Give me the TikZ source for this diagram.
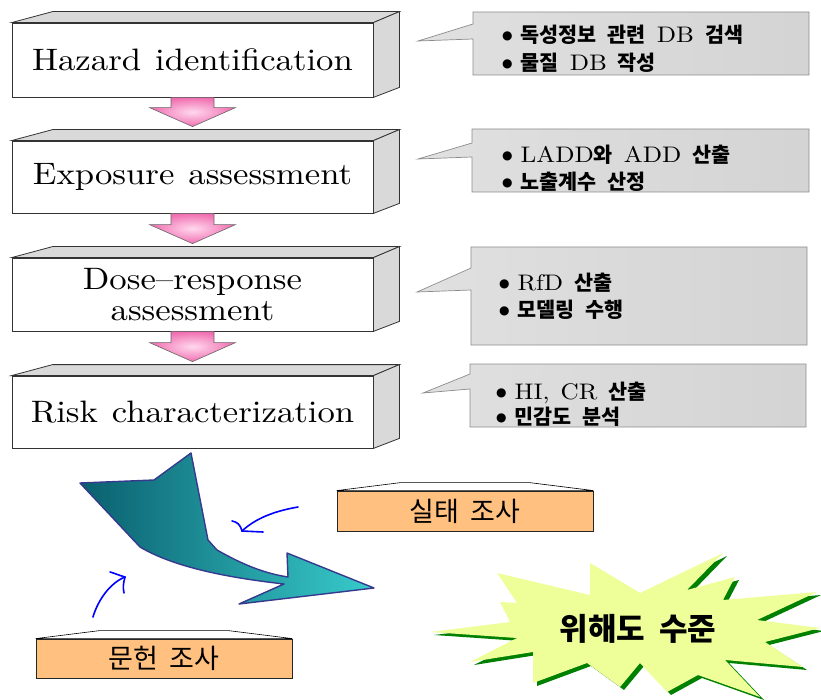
\documentclass[tikz,border=0pt]{standalone}
\usepackage{fontspec}
\newfontfamily\kr[Scale=0.92]{Noto Sans CJK KR}
\newfontfamily\krbig{Noto Sans CJK KR}
\newfontfamily\sym{DejaVu Sans}
\newfontfamily\boxfont[FakeStretch=1.12]{lmroman10-regular.otf}
\usetikzlibrary{calc,arrows.meta}
\definecolor{boxgray}{HTML}{D9D9D9}
\definecolor{pinkout}{HTML}{F06EB0}
\definecolor{pinkin}{HTML}{FFD8EE}
\definecolor{tealdark}{HTML}{0A5F6E}
\definecolor{teallight}{HTML}{38CCCC}
\definecolor{tealedge}{HTML}{363A8E}
\definecolor{orangebox}{HTML}{FFC080}
\definecolor{burst}{HTML}{EEFF99}
\definecolor{burstshadow}{HTML}{008000}
\definecolor{calloutedge}{HTML}{8C8C8C}
\newcommand\krb[1]{{\kr\bfseries #1}}
\newcommand\bul{\raisebox{3.5pt}{\sym\fontsize{12}{12}\selectfont ●}\hspace{8pt}}
\newcommand\gap{\hspace{11pt}}
\newcommand\stepfont{\boxfont\fontsize{31}{32}\selectfont\spaceskip 0.45em\relax}
\newcommand\pinkarrow[2]{%
  \shadedraw[pinkarr] ($(#1.south)+(-21.5,0)$) -- ($(#1.south)+(21.5,0)$)
   -- ($(#2.north)+(21.5,-33)$) -- ($(#2.north)+(43,-33)$)
   -- ($(#2.north)+(0,-14)$) -- ($(#2.north)+(-43,-33)$)
   -- ($(#2.north)+(-21.5,-33)$) -- cycle;}
\newcommand\threedbox[1]{%
  \filldraw[face] (#1.north west) -- ++(41,-11) -- ($(#1.north east)+(26,-11)$) -- (#1.north east) -- cycle;
  \filldraw[face] (#1.north east) -- ++(26,-11) -- ($(#1.south east)+(26,-10)$) -- (#1.south east) -- cycle;}
\newcommand\orangetop[1]{%
  \filldraw[fill=white,draw=black,line width=0.6pt] (#1.north west) -- ++(64,-8) -- ($(#1.north east)+(-64,-8)$) -- (#1.north east) -- cycle;}
\tikzset{
  stepbox/.style={draw=black!80,fill=white,line width=0.8pt,minimum width=361pt,inner sep=0pt,
    font=\stepfont,align=center},
  face/.style={fill=boxgray,draw=black!80,line width=0.8pt},
  pinkarr/.style={inner color=pinkin,outer color=pinkout,draw=black!60,line width=0.6pt},
  callout/.style={left color=gray!24,middle color=white,right color=gray!34,draw=calloutedge,line width=0.7pt},
  callouttext/.style={anchor=west,inner sep=0pt,align=left,font=\boxfont\fontsize{22.5}{28}\selectfont},
  orangebox/.style={fill=orangebox,draw=black!85,line width=0.8pt,minimum width=256pt,inner sep=0pt,
    font=\krbig\fontsize{27}{28}\selectfont},
  bluestroke/.style={draw=blue,line width=1.6pt,line cap=round},
}
\begin{document}
\begin{tikzpicture}[x=1pt,y=-1pt]
\useasboundingbox (0,0) rectangle (821,700);

% --- step boxes
\node[stepbox,minimum height=74pt] (b1) at (192.5,60) {Hazard identification};
\node[stepbox,minimum height=72pt] (b2) at (192.5,177) {Exposure assessment};
\node[stepbox,minimum height=73pt] (b3) at (192.5,294.5) {Dose–response\\[-1pt]assessment};
\node[stepbox,minimum height=72pt] (b4) at (192.5,412) {Risk characterization};
\threedbox{b1}\threedbox{b2}\threedbox{b3}\threedbox{b4}
\pinkarrow{b1}{b2}
\pinkarrow{b2}{b3}
\pinkarrow{b3}{b4}

% --- callouts
\shadedraw[callout] (473,12) -- (809,12) -- (809,75) -- (473,75) -- (473,39) -- (418,41) -- (473,24) -- cycle;
\shadedraw[callout] (472,129) -- (809,129) -- (809,192) -- (472,192) -- (472,157) -- (418,159) -- (472,143) -- cycle;
\shadedraw[callout] (471,247) -- (807,247) -- (807,345) -- (471,345) -- (471,290) -- (417,292) -- (471,268) -- cycle;
\shadedraw[callout] (470,364) -- (806,364) -- (806,427) -- (470,427) -- (470,389) -- (423,393) -- (470,374) -- cycle;

\node[callouttext] (c1) at (502,49) {\bul\krb{독성정보}\gap\krb{관련}\gap DB\gap\krb{검색}\\
  \bul\krb{물질}\gap DB\gap\krb{작성}};
\begin{scope}
\clip (472,129) rectangle (809,192);
\node[callouttext,font=\boxfont\fontsize{22.5}{27}\selectfont] (c2) at (502,168.5) {\bul LADD\krb{와}\gap ADD\gap\krb{산출}\\
  \bul\krb{노출계수}\gap\krb{산정}};
\end{scope}
\node[callouttext,font=\boxfont\fontsize{22.5}{27}\selectfont] (c3) at (499,296.5) {\bul RfD\gap\krb{산출}\\
  \bul\krb{모델링}\gap\krb{수행}};
\begin{scope}
\clip (470,364) rectangle (806,427);
\node[callouttext,font=\boxfont\fontsize{22.5}{25}\selectfont] (c4) at (496,404.5) {\bul HI,\gap CR\gap\krb{산출}\\
  \bul\krb{민감도}\gap\krb{분석}};
\end{scope}

% --- teal curved arrow
\shadedraw[left color=tealdark,right color=teallight,draw=tealedge,line width=1.4pt,line join=round]
  (80,483) -- (154,480) -- (191,453) -- (208,540) -- (217,550)
  .. controls (240,563) and (262,573) .. (288,577)
  -- (287,553) -- (374,588) -- (239,604) -- (284,584)
  .. controls (222,577) and (172,566) .. (140,547) -- cycle;

% --- orange boxes
\node[orangebox,minimum height=40pt] (sil) at (465,511) {실태\hspace{12pt}조사};
\orangetop{sil}
\node[orangebox,minimum height=39pt] (mun) at (164,658.5) {문헌\hspace{12pt}조사};
\orangetop{mun}

% --- blue arrows
\coordinate (s1) at (298,507);
\coordinate (t1) at (242,531);
\draw[bluestroke] (s1) .. controls (275,511) and (256,518) .. (t1);
\draw[bluestroke] (t1) .. controls (240,524) and (237,522) .. (232,521);
\draw[bluestroke] (t1) -- (263,532);
\coordinate (s2) at (93,617);
\coordinate (t2) at (125,577);
\draw[bluestroke] (s2) .. controls (98,600) and (110,583) .. (t2);
\draw[bluestroke] (t2) .. controls (118,575) and (114,573) .. (110,572);
\draw[bluestroke] (t2) .. controls (123,584) and (123,588) .. (124,593);

% --- starburst
\def\burstpath{(430,632) -- (510,622) -- (500,602) -- (517,603) -- (497,573) -- (590,595)
  -- (590,563) -- (640,593) -- (723,553) -- (687,590) -- (735,577) -- (723,600)
  -- (817,592) -- (757,620) -- (820,628) -- (765,642) -- (803,667) -- (725,660)
  -- (760,697) -- (698,675) -- (667,692) -- (640,663) -- (620,687) -- (587,663)
  -- (533,683) -- (533,652) -- (470,662) -- (517,638) -- cycle}
\fill[burstshadow,shift={(4,3)}] \burstpath;
\fill[burst] \burstpath;
\node[font=\krbig\bfseries\fontsize{31}{32}\selectfont] (risk) at (638,629) {위해도\hspace{14pt}수준};
\end{tikzpicture}
\end{document}
